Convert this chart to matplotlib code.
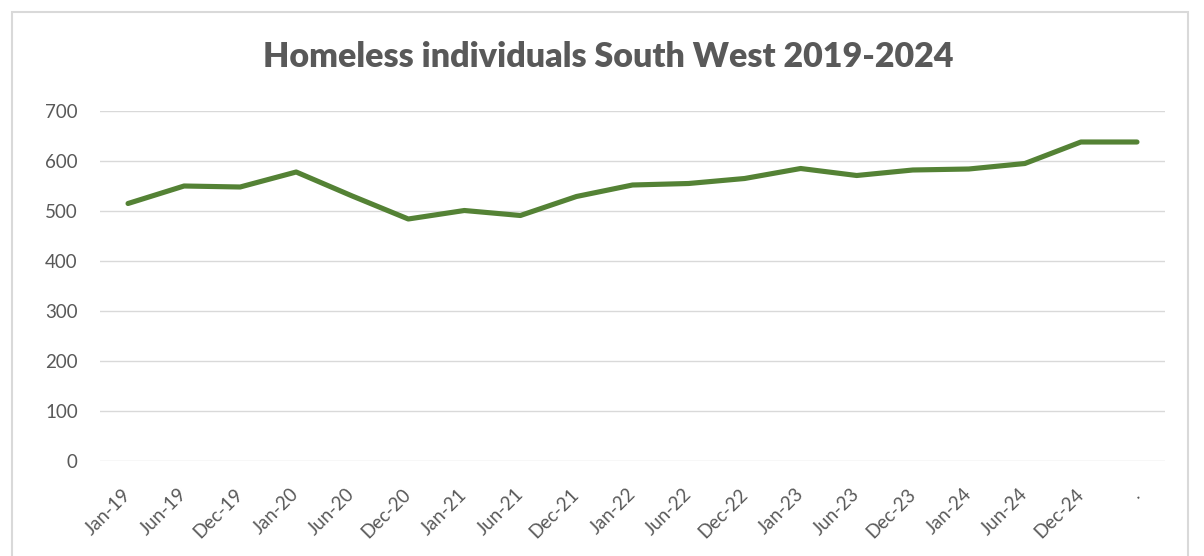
import matplotlib.pyplot as plt
from matplotlib.patches import Rectangle

months = ["Jan-19", "Jun-19", "Dec-19", "Jan-20", "Jun-20", "Dec-20",
          "Jan-21", "Jun-21", "Dec-21", "Jan-22", "Jun-22", "Dec-22",
          "Jan-23", "Jun-23", "Dec-23", "Jan-24", "Jun-24", "Dec-24", "."]
homeless = [515, 550, 548, 578, 530, 484, 501, 491, 529, 552, 555, 565,
            585, 571, 582, 584, 595, 638, 638]
yticks = [0, 100, 200, 300, 400, 500, 600, 700]

grey = "#595959"
plt.rcParams['font.family'] = ['Lato', 'DejaVu Sans']

fig = plt.figure(figsize=(12.04, 5.56), dpi=100)
fig.patches.append(Rectangle((12 / 1204, -0.1), 1176 / 1204, 1.1 - 12 / 556,
                             transform=fig.transFigure, fill=False,
                             edgecolor="#d9d9d9", linewidth=1.5))

ax = fig.add_axes([100 / 1204, 1 - 461 / 556, 1065 / 1204, 350 / 556])
x = list(range(len(months)))
ax.plot(x, homeless, color="#548235", linewidth=3.7, solid_capstyle='round',
        solid_joinstyle='round')

ax.set_xlim(-0.5, len(months) - 0.5)
ax.set_ylim(0, 700)
ax.set_yticks(yticks)
ax.set_xticks(x)
ax.set_xticklabels(months, rotation=45, ha='right', va='center',
                   rotation_mode='anchor')
ax.tick_params(axis='x', length=0, pad=22, labelsize=13.5, labelcolor=grey)
ax.tick_params(axis='y', length=0, pad=16, labelsize=13.5, labelcolor=grey)
ax.grid(axis='y', color="#d9d9d9", linewidth=1)
ax.set_axisbelow(True)
for s in ax.spines.values():
    s.set_visible(False)

fig.text(0.505, 1 - 57 / 556, "Homeless individuals South West 2019-2024",
         ha='center', va='center', fontsize=24.5, fontweight='heavy',
         color=grey)

fig.savefig("out.png", dpi=100)
